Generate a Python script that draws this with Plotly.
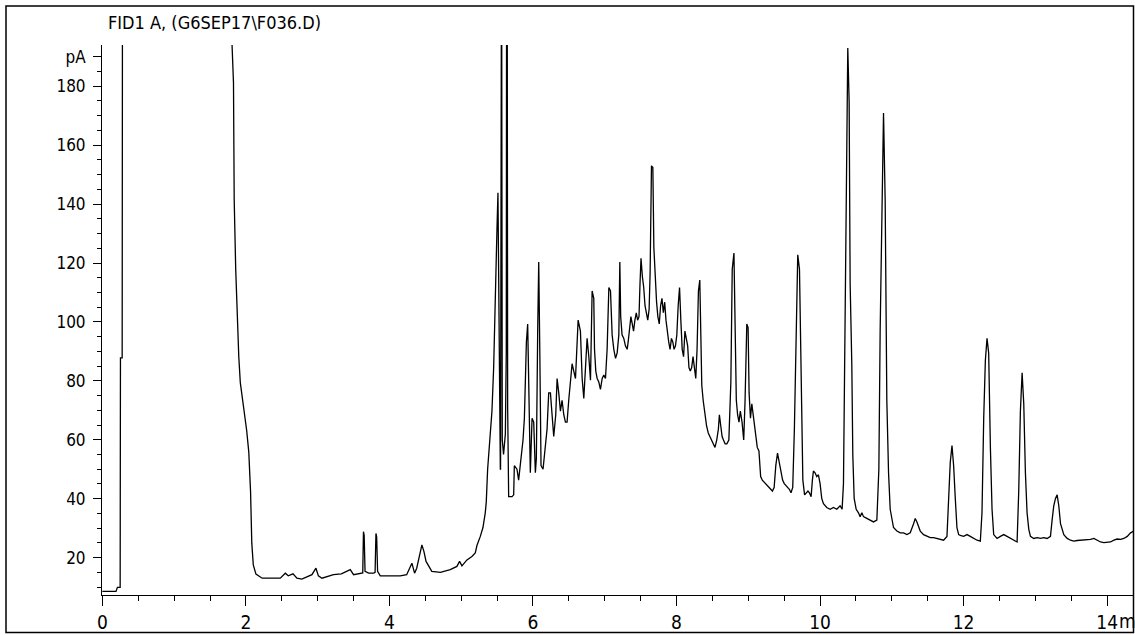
import plotly.graph_objects as go

# Retention time (min) and detector signal (pA)
time_min = [
    0.0, 0.19, 0.21, 0.248, 0.252, 0.276, 0.283, 1.0, 1.79, 1.807, 1.827, 1.837, 1.858, 1.880,
    1.901, 1.922, 1.967, 2.01, 2.04, 2.065, 2.082, 2.103, 2.14, 2.226,
    2.247, 2.479, 2.549, 2.59, 2.656, 2.711, 2.78, 2.92, 2.976, 3.01, 3.06, 3.22, 3.33, 3.454,
    3.50, 3.593, 3.628, 3.638, 3.648, 3.66, 3.71, 3.78, 3.800, 3.812, 3.822, 3.835, 3.872,
    4.15, 4.24, 4.313, 4.35, 4.38, 4.42, 4.452, 4.48, 4.51, 4.59, 4.71, 4.847, 4.94, 4.977,
    5.01, 5.08, 5.149, 5.196, 5.219, 5.266, 5.303, 5.335, 5.349, 5.368, 5.396, 5.428, 5.452,
    5.475, 5.498, 5.512, 5.531, 5.545, 5.548, 5.555, 5.562, 5.572, 5.59, 5.615, 5.628, 5.633,
    5.640, 5.647, 5.661, 5.708, 5.731, 5.74, 5.777, 5.8, 5.824, 5.861, 5.88, 5.908, 5.926,
    5.945, 5.963, 5.987, 6.01, 6.033, 6.047, 6.066, 6.08, 6.094, 6.112, 6.14, 6.163, 6.196,
    6.219, 6.243, 6.266, 6.289, 6.317, 6.336, 6.359, 6.382, 6.405, 6.429, 6.452, 6.475, 6.498,
    6.522, 6.545, 6.568, 6.592, 6.606, 6.629, 6.661, 6.685, 6.708, 6.731, 6.754, 6.778, 6.801,
    6.824, 6.847, 6.857, 6.875, 6.894, 6.917, 6.94, 6.964, 6.987, 7.01, 7.033, 7.057, 7.08,
    7.103, 7.126, 7.15, 7.173, 7.196, 7.21,
    7.222, 7.241, 7.265, 7.288, 7.312, 7.326, 7.345, 7.364, 7.383, 7.401, 7.420, 7.439, 7.458,
    7.477, 7.491, 7.505, 7.524, 7.543, 7.561, 7.580, 7.599, 7.618, 7.632, 7.651, 7.670, 7.684,
    7.703, 7.722, 7.740, 7.759, 7.778, 7.797, 7.816, 7.835, 7.853, 7.872, 7.891, 7.910, 7.929,
    7.948, 7.966, 7.985, 8.004, 8.023, 8.042, 8.060, 8.079, 8.098, 8.117, 8.136, 8.155, 8.173,
    8.192, 8.211, 8.230, 8.249, 8.268, 8.286, 8.305, 8.324, 8.338, 8.352, 8.371, 8.395, 8.418,
    8.442, 8.465, 8.489, 8.512, 8.536, 8.560, 8.583, 8.597, 8.616, 8.635, 8.654, 8.677, 8.701,
    8.729, 8.757, 8.776, 8.800, 8.814, 8.833, 8.851, 8.870, 8.889, 8.913, 8.936, 8.955, 8.979,
    8.997, 9.011, 9.030, 9.049, 9.068, 9.087, 9.106, 9.125, 9.148, 9.172, 9.195, 9.219, 9.242,
    9.266, 9.289, 9.313, 9.336, 9.360, 9.383, 9.407, 9.431, 9.454, 9.478, 9.501, 9.525, 9.548,
    9.572, 9.595, 9.619, 9.642, 9.666, 9.689, 9.713, 9.737, 9.760, 9.784, 9.807, 9.831,
    9.851, 9.875, 9.893, 9.907, 9.930, 9.954, 9.977, 10.000, 10.023, 10.047, 10.093, 10.140,
    10.186, 10.233, 10.279, 10.307, 10.326, 10.349, 10.372, 10.386, 10.405, 10.419, 10.442,
    10.456, 10.475, 10.503, 10.535, 10.558, 10.582, 10.605, 10.651, 10.698, 10.744, 10.791,
    10.819, 10.837, 10.861, 10.884, 10.907, 10.930, 10.954, 10.977, 11.023, 11.07, 11.117,
    11.163, 11.21, 11.256, 11.303, 11.326, 11.349, 11.372, 11.396, 11.442, 11.489, 11.535,
    11.582, 11.628, 11.675, 11.721, 11.768, 11.791, 11.814, 11.838, 11.861, 11.884, 11.907,
    11.931, 11.954, 12.0, 12.047, 12.093, 12.14, 12.187, 12.233, 12.256, 12.28, 12.303, 12.326,
    12.349, 12.373, 12.396, 12.419, 12.466, 12.512, 12.559, 12.605, 12.652, 12.698, 12.745,
    12.768, 12.791, 12.815, 12.838, 12.861, 12.884, 12.908, 12.931, 12.977, 13.024, 13.07,
    13.117, 13.163, 13.21, 13.233, 13.256, 13.28, 13.303, 13.326, 13.35, 13.396, 13.443,
    13.489, 13.535, 13.582, 13.675, 13.768, 13.815, 13.861, 13.908, 13.954, 14.0, 14.047,
    14.094, 14.14, 14.187, 14.233, 14.28, 14.326, 14.373,
]

signal_pA = [
    8.5, 8.5, 9.9, 9.9, 87.8, 87.8, 300, 400, 260, 194, 181.1, 141.4, 117.9, 100.5,
    88.1, 79.4, 72.0, 63.3, 55.9, 42.3, 24.9, 17.5, 14.4, 13.0,
    13.0, 13.0, 14.7, 13.8, 14.5, 13.0, 12.7, 14.2, 16.4, 13.8, 13.0, 14.2, 14.5, 15.9,
    14.2, 14.5, 14.8, 28.8, 27.5, 15.3, 14.7, 14.7, 15.0, 28.2, 27.0, 15.3, 13.8,
    13.8, 14.2, 18.1, 14.7, 16.4, 20.9, 24.3, 22.1, 18.7, 15.3, 15.0, 15.9, 17.0, 18.7,
    17.2, 19.2, 20.4, 21.6, 24.1, 27.2, 30.2, 35.2, 38.9, 50.0, 59.9, 69.7, 84.5,
    112.9, 131.4, 143.8, 73.4, 50.0, 50.0, 240, 240, 60, 55, 62, 90, 240,
    240, 71, 40.7, 40.7, 41.3, 51.2, 50.0, 46.3, 51.2, 59.9, 67.3, 93.2, 99.3,
    66.0, 48.8, 67.3, 66.0, 48.8, 53.7, 98.1, 120.3, 91.9, 51.2, 50.0, 56.2, 63.6,
    75.9, 75.9, 68.5, 61.1, 68.5, 80.8, 75.9, 69.7, 73.4, 68.5, 66.0, 66.0, 73.4,
    80.8, 85.8, 83.3, 80.8, 88.2, 100.6, 96.9, 80.8, 74.0, 83.3, 94.4, 88.2, 80.2,
    110.5, 108.0, 90.7, 83.3, 80.8, 79.6, 77.1, 80.8, 82.0, 80.8, 90.7, 111.7, 110.5,
    95.6, 90.7, 87.6, 89.5, 95.6, 120.3,
    101.8, 95.6, 94.4, 91.9, 90.7, 93.2, 98.1, 101.8, 99.3, 96.9, 100.6, 103.1, 100.6,
    101.8, 112.9, 121.6, 115.4, 111.7, 105.5, 103.1, 100.6, 104.3, 116.6, 153.0, 152.4, 125.3,
    112.9, 106.7, 101.8, 99.3, 105.5, 108.0, 103.1, 106.7, 100.6, 95.6, 93.2, 90.7, 94.4,
    93.2, 90.7, 91.9, 95.6, 105.5, 111.7, 100.6, 90.7, 88.2, 96.9, 94.4, 91.9, 84.5,
    83.3, 84.5, 88.2, 84.5, 80.8, 90.7, 110.5, 114.2, 100.6, 78.4, 73.4, 68.5, 64.8,
    62.3, 61.1, 59.9, 58.6, 57.4, 59.9, 63.6, 68.5, 63.6, 61.1, 59.9, 58.6, 58.6,
    59.9, 79.6, 117.9, 123.4, 104.3, 73.4, 68.5, 66.0, 69.7, 66.0, 59.9, 73.4, 99.3,
    98.1, 75.9, 67.3, 72.2, 68.5, 66.0, 61.1, 57.4, 56.2, 47.5, 46.3, 45.7, 45.1,
    44.4, 43.8, 43.2, 42.6, 43.8, 51.2, 55.5, 52.4, 50.0, 46.3, 45.1, 44.4, 43.8,
    43.2, 42.0, 43.8, 63.6, 100.6, 122.8, 117.9, 71.0, 46.3, 41.3, 42.0, 42.6,
    42.0, 40.7, 46.3, 49.4, 48.8, 47.5, 48.1, 45.1, 40.1, 38.3, 37.0, 36.4,
    37.0, 36.4, 37.6, 36.4, 45.1, 109.2, 174.6, 193.0, 174.6, 112.9, 85.8,
    54.9, 40.1, 36.4, 35.2, 33.9, 35.2, 33.9, 33.3, 32.7, 32.1, 32.7,
    50.0, 96.9, 141.3, 170.9, 141.3, 73.4, 48.8, 36.4, 30.2, 29.0, 28.4,
    28.4, 27.8, 28.4, 31.5, 33.3, 32.1, 30.2, 29.0, 27.8, 27.2, 26.8,
    26.8, 26.5, 26.3, 25.9, 27.2, 40.1, 52.4, 58.0, 51.2, 40.1, 30.2,
    27.8, 27.5, 27.2, 27.8, 27.2, 26.5, 25.9, 25.6, 35.2, 67.3, 87.0, 94.4,
    89.5, 57.4, 36.4, 27.8, 26.5, 27.2, 27.8, 27.2, 26.5, 25.9, 25.3,
    42.6, 69.7, 82.7, 72.2, 48.8, 35.2, 29.6, 27.2, 26.5, 26.8, 26.5,
    26.8, 26.5, 27.2, 32.7, 37.6, 40.1, 41.3, 37.6, 31.5, 27.8, 26.5,
    25.9, 25.6, 25.8, 25.9, 26.2, 26.5, 25.9, 25.3, 25.1, 25.3, 25.3,
    25.9, 26.3, 26.2, 26.5, 27.2, 28.4, 29.0,
]

x_tick_vals = [0, 2, 4, 6, 8, 10, 12, 14]
x_tick_text = ["0", "2", "4", "6", "8", "10", "12", "14"]
y_tick_vals = [20, 40, 60, 80, 100, 120, 140, 160, 180, 190]
y_tick_text = ["20", "40", "60", "80", "100", "120", "140", "160", "180", "pA"]

title_text = "FID1 A, (G6SEP17\\F036.D)"
x_unit_text = "min"

FONT = "Liberation Sans Narrow, Arial Narrow, DejaVu Sans Condensed, sans-serif"

fig = go.Figure()
fig.add_trace(go.Scatter(
    x=time_min, y=signal_pA, mode="lines",
    line=dict(color="black", width=1.3),
    hoverinfo="x+y",
))

W, H = 1135, 635
L, R, T, B = 102, 2, 45, 40
pw = W - L - R
ph = H - T - B

def px_x(px):
    return (px - L) / pw

def px_y(py):
    return (H - B - py) / ph

fig.update_layout(
    width=W, height=H,
    margin=dict(l=L, r=R, t=T, b=B, autoexpand=False),
    paper_bgcolor="white", plot_bgcolor="white",
    showlegend=False,
    font=dict(family=FONT, color="black"),
    xaxis=dict(
        range=[-0.005, 14.36],
        tickmode="array", tickvals=x_tick_vals, ticktext=x_tick_text,
        ticks="outside", ticklen=10, tickwidth=1, tickcolor="black",
        showline=True, linecolor="black", linewidth=1,
        showgrid=False, zeroline=False, automargin=False,
        tickfont=dict(family=FONT, size=19, color="black"),
        minor=dict(tick0=0, dtick=0.5, ticks="outside", ticklen=5,
                   tickcolor="black", tickwidth=1, showgrid=False),
    ),
    yaxis=dict(
        range=[7.3, 194],
        tickmode="array", tickvals=y_tick_vals, ticktext=y_tick_text,
        ticks="outside", ticklen=8, tickwidth=1, tickcolor="black",
        showline=True, linecolor="black", linewidth=1,
        showgrid=False, zeroline=False, automargin=False,
        tickfont=dict(family=FONT, size=17, color="black"),
        ticklabelstandoff=4,
        minor=dict(tick0=0, dtick=5, ticks="outside", ticklen=4,
                   tickcolor="black", tickwidth=1, showgrid=False),
    ),
    annotations=[
        dict(text=title_text, xref="paper", yref="paper",
             x=px_x(106), y=px_y(23), xanchor="left", yanchor="middle",
             showarrow=False, font=dict(family=FONT, size=18, color="black")),
        dict(text=x_unit_text, xref="paper", yref="paper",
             x=px_x(1117), y=px_y(621), xanchor="left", yanchor="middle",
             showarrow=False, font=dict(family=FONT, size=19, color="black")),
    ],
    shapes=[
        dict(type="rect", xref="paper", yref="paper",
             x0=px_x(6), x1=px_x(1133.5), y0=px_y(632.5), y1=px_y(6),
             line=dict(color="black", width=1.5), fillcolor="rgba(0,0,0,0)",
             layer="above"),
    ],
)

fig.write_html(
    "out.html",
    config={"displayModeBar": False},
    post_script="document.body.style.margin='0';document.body.style.padding='0';"
                "document.body.style.overflow='hidden';",
)
